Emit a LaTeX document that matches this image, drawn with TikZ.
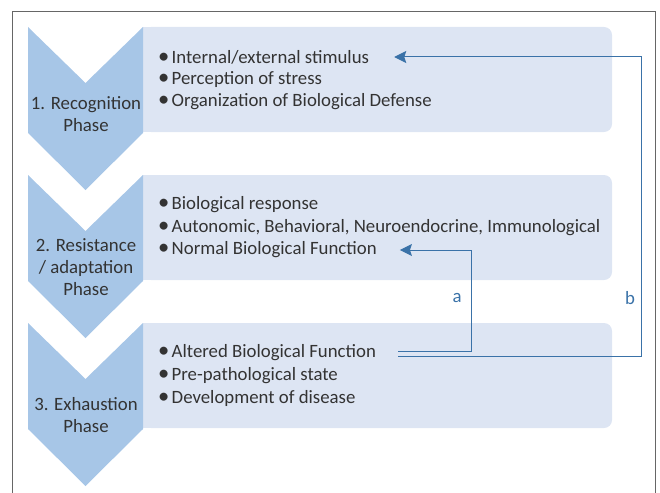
\documentclass[tikz,border=0pt]{standalone}
\usepackage{fontspec}
\setmainfont{Carlito}
\usepackage{tikz}
\usetikzlibrary{arrows.meta,positioning}

\definecolor{chevblue}{HTML}{A7C6E7}
\definecolor{boxblue}{HTML}{DDE5F3}
\definecolor{linkblue}{HTML}{3A72A8}
\definecolor{txtgray}{HTML}{333333}

% bullet with a fixed gap before the text
\newcommand{\itm}{\makebox[13.5pt][l]{\smash{\scalebox{1.2}{\textbullet}}}}

\begin{document}
\begin{tikzpicture}[x=1pt,y=-1pt,
    chev/.style={fill=chevblue},
    panel/.style={fill=boxblue},
    phase/.style={align=center,text=txtgray,font=\fontsize{18.8}{21.8}\selectfont},
    item/.style={anchor=west,inner sep=0pt,text=txtgray,font=\fontsize{18.8}{22}\selectfont},
    fb/.style={draw=linkblue,line width=1pt,-{Stealth[length=12pt,width=12pt,inset=2pt]}},
    tag/.style={text=linkblue,font=\fontsize{18.8}{22}\selectfont}]
  \useasboundingbox (0,0) rectangle (660,492);
  % outer frame, open at the bottom
  \draw[gray!80!black,line width=1pt] (12,500) -- (12,12) -- (655,12) -- (655,500);

  % three phases
  \foreach \y in {27,175,323} {
    \fill[panel,rounded corners=8pt] (143,\y) rectangle (612,\y+105);
    \fill[panel] (143,\y) rectangle (170,\y+105);
    \fill[chev] (28,\y) -- (85.5,\y+56) -- (143,\y) -- (143,\y+106)
      -- (85.5,\y+163) -- (28,\y+106) -- cycle;
  }

  \node[phase] (ph1) at (86,114) {1. Recognition\\Phase};
  \node[phase] (ph2) at (86,267) {2. Resistance\\/ adaptation\\Phase};
  \node[phase] (ph3) at (86,415) {3. Exhaustion\\Phase};

  \node[item] (stim) at (158,57)  {\itm Internal/external stimulus};
  \node[item] (perc) at (158,80)  {\itm Perception of stress};
  \node[item] (org)  at (158,102) {\itm Organization of Biological Defense};

  \node[item] (resp) at (158,205) {\itm Biological response};
  \node[item] (auto) at (158,228) {\itm Autonomic, Behavioral, Neuroendocrine, Immunological};
  \node[item] (norm) at (158,250) {\itm Normal Biological Function};

  \node[item] (alt)  at (158,353) {\itm Altered Biological Function};
  \node[item] (pre)  at (158,376) {\itm Pre-pathological state};
  \node[item] (dev)  at (158,398) {\itm Development of disease};

  % feedback links
  \coordinate (aout) at (398,351);
  \coordinate (bout) at (398,356);
  \draw[fb] (aout) -- (471,351) |- ([xshift=23pt]norm.east);
  \draw[fb] (bout) -- (641,356) |- ([xshift=25pt]stim.east);
  \node[tag] (la) at (457,298) {a};
  \node[tag] (lb) at (630,298) {b};
\end{tikzpicture}
\end{document}
